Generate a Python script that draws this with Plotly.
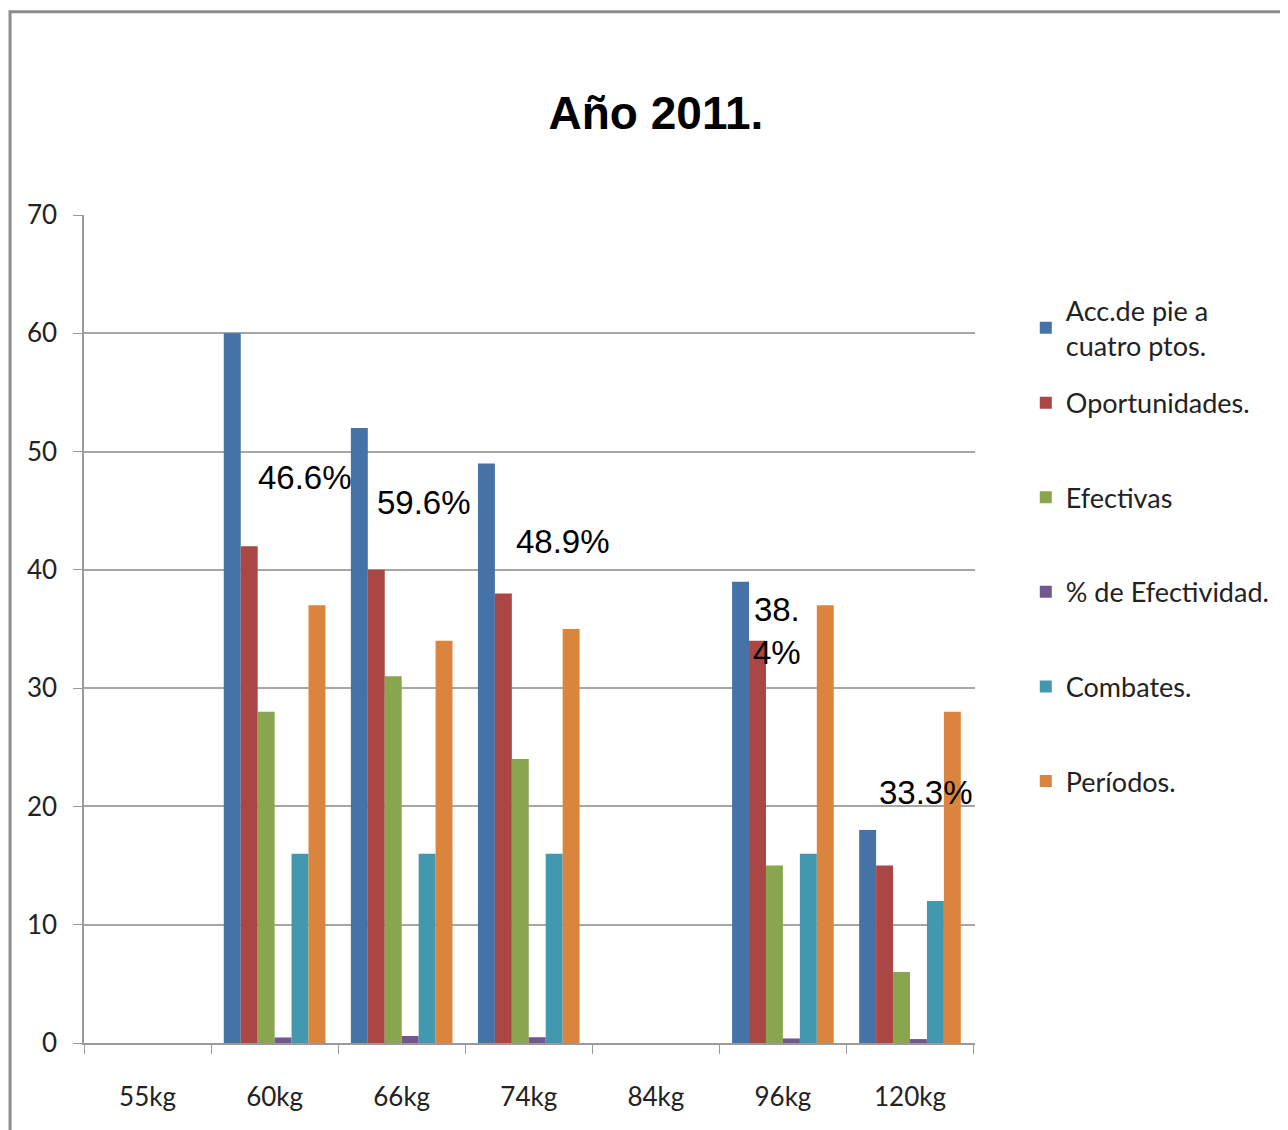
import plotly.graph_objects as go

categories = ['55kg', '60kg', '66kg', '74kg', '84kg', '96kg', '120kg']

acciones      = [None, 60, 52, 49, None, 39, 18]
oportunidades = [None, 42, 40, 38, None, 34, 15]
efectivas     = [None, 28, 31, 24, None, 15, 6]
efectividad   = [None, 0.466, 0.596, 0.489, None, 0.384, 0.333]
combates      = [None, 16, 16, 16, None, 16, 12]
periodos      = [None, 37, 34, 35, None, 37, 28]

series = [
    ('Acc.de pie a<br>cuatro ptos.', acciones, '#4572A7'),
    ('Oportunidades.', oportunidades, '#AA4643'),
    ('Efectivas', efectivas, '#89A54E'),
    ('% de Efectividad.', efectividad, '#71588F'),
    ('Combates.', combates, '#4198AF'),
    ('Períodos.', periodos, '#DB843D'),
]

# percentage labels: (category, text, y, xshift)
pct_labels = [
    ('60kg', '46.6%', 47.8, 30),
    ('66kg', '59.6%', 45.7, 22),
    ('74kg', '48.9%', 42.4, 34),
    ('96kg', '38.<br>4%', 34.8, -6),
    ('120kg', '33.3%', 21.2, 16),
]

TICK_FONT = dict(family='Lato, Open Sans, sans-serif', size=26, color='#222')
LEG_FONT = dict(family='Lato, Open Sans, sans-serif', size=27, color='#222')

fig = go.Figure()
for i, (name, vals, color) in enumerate(series):
    fig.add_trace(go.Bar(
        x=categories, y=vals, name=name,
        marker=dict(color=color, line=dict(width=0)),
        legend='legend' if i == 0 else 'legend2',
        legendgroup=f'g{i}',
    ))

for cat, txt, y, dx in pct_labels:
    fig.add_annotation(
        x=cat, y=y, text=txt, showarrow=False, xshift=dx,
        font=dict(family='Liberation Sans, Arial', size=33, color='black'),
        xanchor='center', yanchor='middle',
    )

# outer chart frame
fig.add_shape(type='rect', xref='paper', yref='paper',
              x0=-0.083, x1=1.5, y0=-0.3, y1=1.2455,
              line=dict(color='#8c8c8c', width=3), fillcolor='rgba(0,0,0,0)',
              layer='below')

fig.update_layout(
    width=1280, height=1122,
    margin=dict(l=76, r=313, t=207, b=87),
    paper_bgcolor='white', plot_bgcolor='white',
    barmode='group', bargap=0.2, bargroupgap=0,
    title=dict(text='<b>Año 2011.</b>', x=0.5062, xanchor='center',
               y=0.9064, yanchor='middle',
               font=dict(family='Liberation Sans, Arial', size=46, color='black')),
    legend=dict(x=1.057, y=0.914, xanchor='left', yanchor='top',
                font=LEG_FONT, itemwidth=30, bgcolor='rgba(0,0,0,0)'),
    legend2=dict(x=1.057, y=0.8024, xanchor='left', yanchor='top',
                 font=LEG_FONT, tracegroupgap=56.5, traceorder='grouped',
                 itemwidth=30, bgcolor='rgba(0,0,0,0)'),
    showlegend=True,
)

fig.update_xaxes(
    showline=True, linecolor='#9a9a9a', linewidth=1.5,
    ticks='outside', tickson='boundaries', ticklen=9, tickcolor='#9a9a9a',
    tickfont=TICK_FONT, ticklabelstandoff=30,
    showgrid=False,
)
fig.update_yaxes(
    range=[0, 70], dtick=10,
    showline=True, linecolor='#9a9a9a', linewidth=1.5,
    ticks='outside', ticklen=9, tickcolor='#9a9a9a',
    tickfont=TICK_FONT, ticklabelstandoff=11,
    showgrid=True, gridcolor='#a6a6a6', gridwidth=1.5,
    zeroline=False,
)

fig.write_html('out.html')
